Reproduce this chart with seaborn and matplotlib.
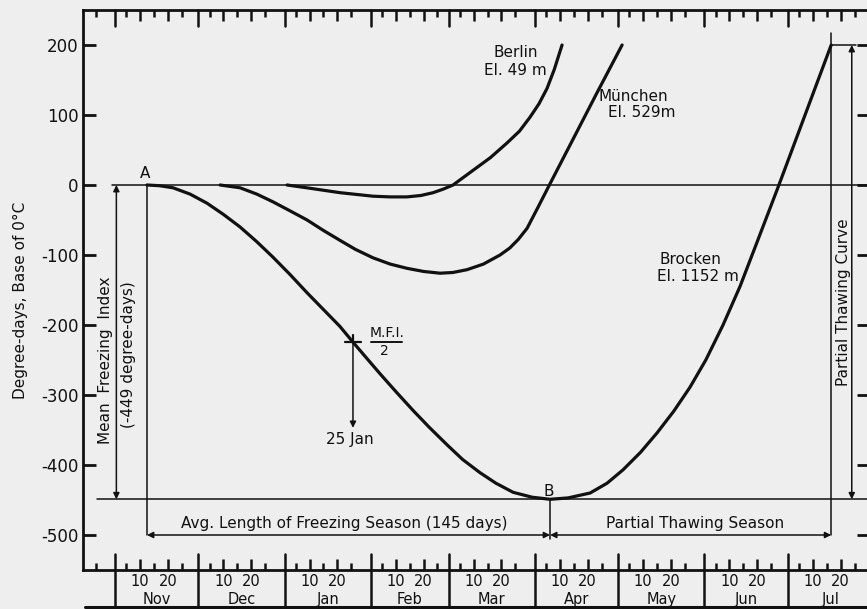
import matplotlib
matplotlib.use("Agg")
import matplotlib.pyplot as plt
import seaborn as sns
import numpy as np
import pandas as pd

# ---------------- data (x = days since 1 Nov, y = degree-days) ----------------
month_names = ["Nov", "Dec", "Jan", "Feb", "Mar", "Apr", "May", "Jun", "Jul"]
month_start = [0, 30, 61, 92, 120, 151, 181, 212, 242]
month_len = [30, 31, 31, 28, 31, 30, 31, 30, 31]

brocken_day = [11.5, 16.0, 20.9, 27.0, 33.1, 39.0, 45.0, 51.0, 56.8, 63.0, 69.1, 75.0,
               80.9, 85.6, 90.0, 95.3, 101.0, 107.2, 113.0, 119.4, 125.0, 131.3, 137.0,
               143.2, 150.0, 156.5, 163.0, 170.9, 177.0, 182.7, 189.0, 195.0, 201.0,
               206.8, 212.5, 218.7, 224.8, 230.9, 238.8, 257.6]
brocken_val = [0, -1, -4, -13, -26, -42, -60, -81, -103, -128, -154, -178,
               -202, -224.5, -245, -269.5, -295, -322, -346, -371, -392, -411, -426,
               -439, -446, -449, -447, -440, -426, -407, -382, -354, -323,
               -289, -250, -200, -145, -82, 0, 200]

berlin_day = [61.9, 69.0, 81.0, 92.8, 99.0, 105.0, 110.0, 114.4, 118.0, 121.6, 128.8,
              135.0, 141.0, 145.5, 149.3, 152.5, 155.4, 158.0, 160.8]
berlin_val = [0, -4, -11, -16, -17, -17, -15, -11, -6, 0, 21, 39, 60, 77, 97, 116,
              138, 165, 200]

munich_day = [37.8, 45.0, 51.0, 56.8, 63.0, 69.1, 75.0, 80.9, 86.5, 92.8, 99.0, 105.0,
              111.0, 116.9, 121.5, 126.6, 132.5, 138.5, 142.0, 145.0, 148.2, 152.0,
              156.5, 164.7, 173.4, 182.4]
munich_val = [0, -4, -13, -24, -37, -50, -65, -79, -92, -104, -113, -119,
              -123.5, -126, -125, -121, -113, -100, -90, -78, -62, -33,
              2, 65, 132, 200]

yticks = [200, 100, 0, -100, -200, -300, -400, -500]

freeze_start = 11.5     # point A
freeze_end = 156.5      # point B (145 days later)
thaw_end = 257.6
mfi = -449
mfi_half_day = 85.6     # 25 Jan
thaw_top = 200

# ---------------- style ----------------
sns.set_style("white")
plt.rcParams["font.family"] = ["DejaVu Sans"]
ink = "#111111"
paper = "#eeeeee"

fig = plt.figure(figsize=(8.67, 6.09), dpi=100, facecolor=paper)
ax = fig.add_axes([83 / 867, 39 / 609, 786 / 867, 560 / 609], facecolor=paper)

curve_kw = dict(color=ink, linewidth=2.3, estimator=None, ax=ax)
sns.lineplot(x=brocken_day, y=brocken_val, **curve_kw)
sns.lineplot(x=berlin_day, y=berlin_val, **curve_kw)
sns.lineplot(x=munich_day, y=munich_val, **curve_kw)

ax.set_xlim(-11.5, 271.2)
ax.set_ylim(-550, 250)

for s in ["left", "top", "bottom"]:
    ax.spines[s].set_linewidth(2.0)
    ax.spines[s].set_color(ink)
ax.spines["right"].set_visible(False)

# y ticks
ax.set_yticks(yticks)
ax.set_yticklabels([str(v) for v in yticks], fontsize=12, color=ink)
ax.tick_params(axis="y", direction="in", length=9, width=2, color=ink, pad=3,
               right=True, left=True)

# x ticks: 10 and 20 of each month labelled, 5/15/25 minor
major_days, major_labels, minor_days = [], [], []
for m in month_start:
    major_days += [m + 9, m + 19]
    major_labels += ["10", "20"]
    minor_days += [m + 4, m + 14, m + 24]
minor_days += [-31 + 24]
ax.set_xticks(major_days)
ax.set_xticklabels(major_labels, fontsize=10.5, color=ink)
ax.set_xticks(minor_days, minor=True)
ax.tick_params(axis="x", which="major", direction="in", length=8, width=1.8,
               color=ink, pad=3, top=True, bottom=True)
ax.tick_params(axis="x", which="minor", direction="in", length=5, width=1.8,
               color=ink, top=True, bottom=True)
ax.tick_params(axis="y", which="minor", left=False, right=False)

xt = ax.get_xaxis_transform()
for m, name, ln in zip(month_start, month_names, month_len):
    ax.plot([m, m], [0.028, -0.08], transform=xt, color=ink, lw=1.8, clip_on=False)
    ax.plot([m, m], [1.0, 1 - 16 / 560], transform=xt, color=ink, lw=1.8, clip_on=False)
    ax.text(m + ln / 2, -0.052, name, transform=xt, ha="center", va="center",
            fontsize=10.5, color=ink)
ax.plot([-10.8, 271.2], [-37 / 560, -37 / 560], transform=xt, color=ink, lw=2.2,
        clip_on=False)

# ---------------- construction lines and annotations ----------------
thin = dict(color=ink, lw=1.1)
ax.plot([-1, 271.2], [0, 0], **thin)
ax.plot([-6.5, 271.2], [mfi, mfi], **thin)
ax.plot([freeze_start, freeze_start], [0, -500], **thin)
ax.plot([freeze_end, freeze_end], [mfi, -505], **thin)
ax.plot([thaw_end, thaw_end], [217, -500], **thin)
ax.plot([thaw_end, 266.5], [thaw_top, thaw_top], **thin)

arr = dict(arrowstyle="<|-|>", color=ink, lw=1.1, mutation_scale=9,
           shrinkA=0, shrinkB=0)
ax.annotate("", xy=(0.5, mfi), xytext=(0.5, 0), arrowprops=arr)
ax.annotate("", xy=(freeze_start, -500), xytext=(freeze_end, -500), arrowprops=arr)
ax.annotate("", xy=(freeze_end, -500), xytext=(thaw_end, -500), arrowprops=arr)
ax.annotate("", xy=(265, mfi), xytext=(265, thaw_top), arrowprops=arr)
ax.annotate("", xy=(mfi_half_day, -347), xytext=(mfi_half_day, mfi / 2),
            arrowprops=dict(arrowstyle="-|>", color=ink, lw=1.1, mutation_scale=9,
                            shrinkA=0, shrinkB=0))
ax.plot([mfi_half_day - 3, mfi_half_day + 3], [mfi / 2, mfi / 2], color=ink, lw=1.6)
ax.plot([mfi_half_day, mfi_half_day], [mfi / 2 + 10, mfi / 2], color=ink, lw=1.6)

tk = dict(color=ink, fontsize=11)
ax.text(freeze_start - 0.5, 6, "A", ha="center", va="bottom", **tk)
ax.text(freeze_end - 0.5, -448, "B", ha="center", va="bottom", **tk)
ax.text(82.5, -484, "Avg. Length of Freezing Season (145 days)", ha="center",
        va="center", **tk)
ax.text(208.6, -484, "Partial Thawing Season", ha="center", va="center", **tk)
ax.text(-3.3, -250, "Mean  Freezing  Index", rotation=90, ha="center", va="center", **tk)
ax.text(4.7, -243, "(-449 degree-days)", rotation=90, ha="center", va="center", **tk)
ax.text(262, -167, "Partial Thawing Curve", rotation=90, ha="center", va="center", **tk)
ax.text(144, 189, "Berlin", ha="center", va="center", **tk)
ax.text(144, 164, "El. 49 m", ha="center", va="center", **tk)
ax.text(186.3, 126, "München", ha="center", va="center", **tk)
ax.text(189.5, 103, "El. 529m", ha="center", va="center", **tk)
ax.text(207, -106, "Brocken", ha="center", va="center", **tk)
ax.text(209.5, -131, "El. 1152 m", ha="center", va="center", **tk)
ax.text(97.8, -211, "M.F.I.", ha="center", va="center", fontsize=10, color=ink)
ax.plot([92.2, 103.4], [-224, -224], color=ink, lw=1.4)
ax.text(97, -237, "2", ha="center", va="center", fontsize=10, color=ink)
ax.text(84.5, -364, "25 Jan", ha="center", va="center", **tk)

ax.set_xlabel("")
ax.set_ylabel("")
fig.text(20 / 867, 1 - 300 / 609, "Degree-days, Base of 0°C", rotation=90,
         ha="center", va="center", fontsize=11, color=ink)

fig.savefig("out.png", dpi=100, facecolor=paper)
